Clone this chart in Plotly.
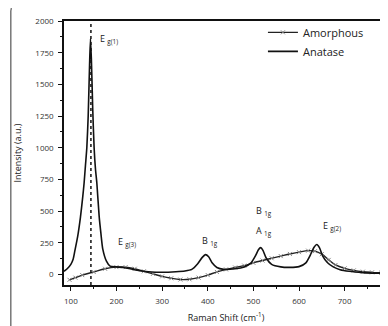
import plotly.graph_objects as go

# Anatase spectrum (Raman shift cm^-1, intensity a.u.)
anatase_x = [85, 92, 100, 105, 109, 115, 121, 126, 129, 132, 135, 138, 141, 143, 145, 148, 151, 154, 157, 162, 166, 170, 178, 186,
             200, 215, 230, 250, 270, 300, 330, 350, 365, 378, 388, 395, 402, 410, 420, 435, 460, 480, 495, 505, 511, 516, 521,
             528, 540, 560, 580, 600, 615, 625, 633, 639, 645, 652, 662, 675, 690, 710, 740, 770, 795]
anatase_y = [25, 45, 80, 120, 190, 300, 450, 610, 720, 860, 1000, 1250, 1650, 1860, 1700, 1300, 1000, 830, 720, 460, 320, 200, 105, 66,
             60, 55, 45, 30, 22, 18, 22, 28, 40, 85, 135, 157, 140, 90, 55, 40, 45, 60, 92, 150, 195, 212, 190,
             130, 80, 60, 56, 62, 92, 155, 215, 236, 210, 145, 95, 60, 38, 25, 15, 10, 8]

# Amorphous spectrum
amorph_x = [97, 110, 125, 150, 175, 200, 220, 240, 260, 280, 300, 320, 340, 360, 380, 400, 420, 440, 460, 480,
            500, 520, 540, 560, 580, 600, 620, 635, 650, 665, 680, 700, 720, 740, 760, 780, 795]
amorph_y = [-42, -25, -5, 20, 45, 58, 58, 45, 25, 5, -15, -30, -40, -38, -25, -5, 20, 40, 55, 70,
            92, 110, 128, 145, 162, 176, 188, 184, 160, 115, 75, 48, 32, 22, 17, 14, 12]

eg1_position = 144

peak_labels = ["E <sub>g(1)</sub>", "E <sub>g(3)</sub>", "B <sub>1g</sub>", "B <sub>1g</sub>", "A <sub>1g</sub>", "E <sub>g(2)</sub>"]
peak_label_x = [160, 198, 382, 501, 501, 648]
peak_label_y = [1855, 255, 265, 500, 340, 380]

x_range = [85, 795]
y_range = [-83, 2000]

font_family = "Open Sans, Lato, sans-serif"

fig = go.Figure()
fig.add_trace(go.Scatter(
    x=amorph_x, y=amorph_y, name="Amorphous", mode="lines+markers",
    line=dict(color="#222", width=1.4, shape="spline", smoothing=1.0),
    marker=dict(symbol="x-thin", size=4, line=dict(color="#888", width=1), color="#888"),
))
fig.add_trace(go.Scatter(
    x=anatase_x, y=anatase_y, name="Anatase", mode="lines",
    line=dict(color="#111", width=1.6, shape="spline", smoothing=0.6),
))

fig.add_shape(type="line", xref="x", yref="paper", x0=eg1_position, x1=eg1_position, y0=0, y1=1,
              line=dict(color="#111", width=1.5, dash="dot"))

for t, xx, yy in zip(peak_labels, peak_label_x, peak_label_y):
    fig.add_annotation(x=xx, y=yy, text=t, showarrow=False, xanchor="left", yanchor="middle",
                       font=dict(size=9, color="#222", family=font_family))

# outer rounded frame (paper coords)
x0p, ytp = -0.164, 1.062
rx, ry = 0.02, 0.024
fig.add_shape(type="path", xref="paper", yref="paper",
              path=f"M {x0p} -0.3 L {x0p} {ytp-ry} Q {x0p} {ytp} {x0p+rx} {ytp} L 1.1 {ytp}",
              line=dict(color="#333", width=1))

fig.update_layout(
    width=380, height=318,
    margin=dict(l=56, r=0, t=13, b=41),
    paper_bgcolor="white", plot_bgcolor="white",
    font=dict(family=font_family, color="#222"),
    showlegend=True,
    legend=dict(x=0.614, y=1.012, xanchor="left", yanchor="top", bgcolor="rgba(0,0,0,0)",
                font=dict(size=11, color="#222"), itemwidth=30, tracegroupgap=0),
    xaxis=dict(range=x_range, automargin=False, showgrid=False, zeroline=False, showline=True, linecolor="#111", linewidth=1.5,
               mirror=True, ticks="outside", ticklen=4, tickwidth=1.2, tickcolor="#111",
               tick0=100, dtick=100, tickfont=dict(size=8, color="#333"), ticklabelstandoff=4,
               minor=dict(ticks="outside", ticklen=2.5, dtick=50, tick0=50, tickcolor="#111"),
               title=dict(text="Raman Shift (cm<sup>-1</sup>)", font=dict(size=9, color="#222"), standoff=9)),
    yaxis=dict(range=y_range, automargin=False, showgrid=False, zeroline=False, showline=True, linecolor="#111", linewidth=1.5,
               mirror=False, ticks="outside", ticklen=4, tickwidth=1.2, tickcolor="#111",
               tick0=0, dtick=250, tickfont=dict(size=8, color="#333"), ticklabelstandoff=3,
               minor=dict(ticks="outside", ticklen=2.5, dtick=125, tick0=0, tickcolor="#111"),
               title=dict(text="Intensity (a.u.)", font=dict(size=9, color="#222"), standoff=12)),
)

fig.write_html("out.html")
